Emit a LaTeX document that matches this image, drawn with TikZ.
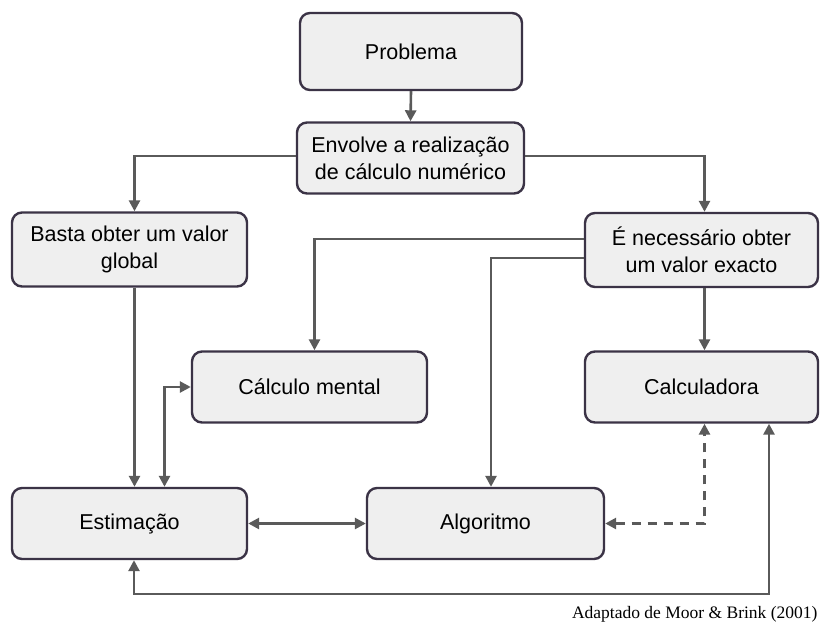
\documentclass[tikz,border=0pt]{standalone}
\usepackage{fontspec}
\setmainfont{Liberation Sans}
\newfontfamily\capfont{Liberation Serif}
\usetikzlibrary{arrows.meta}
\definecolor{boxfill}{HTML}{EFEFEF}
\definecolor{boxline}{HTML}{3B3346}
\definecolor{arr}{HTML}{5A5A5A}
\begin{document}
\begin{tikzpicture}[x=1pt,y=-1pt,
  box/.style={draw=boxline, fill=boxfill, line width=2.4pt, rounded corners=10pt, align=center,
    font=\fontsize{21.5}{27}\selectfont, inner sep=0pt},
  conn/.style={draw=arr, line width=2.6pt, -{Triangle[length=11pt,width=11pt]}},
  dconn/.style={draw=arr, line width=2.6pt, {Triangle[length=11pt,width=11pt]}-{Triangle[length=11pt,width=11pt]}}
]
\useasboundingbox (0,0) rectangle (827,627);
\fill[white] (0,0) rectangle (827,627);
\node[box, minimum width=222pt, minimum height=77pt] (prob) at (411,51.5) {Problema};
\node[box, minimum width=227pt, minimum height=71pt] (env) at (410.5,158) {Envolve a realização\\de cálculo numérico};
\node[box, minimum width=235pt, minimum height=74pt] (basta) at (129.5,249.5) {Basta obter um valor\\global};
\node[box, minimum width=233pt, minimum height=74pt] (nec) at (701.5,250) {É necessário obter\\um valor exacto};
\node[box, minimum width=235pt, minimum height=71pt] (calm) at (309.5,387) {Cálculo mental};
\node[box, minimum width=233pt, minimum height=71pt] (calc) at (701.5,387) {Calculadora};
\node[box, minimum width=235pt, minimum height=71pt] (est) at (129.5,523.5) {Estimação};
\node[box, minimum width=237pt, minimum height=71pt] (alg) at (485.5,523.5) {Algoritmo};
\node[anchor=east, font=\capfont\fontsize{17.5}{20}\selectfont] (cap) at (821,614) {Adaptado de Moor \& Brink (2001)};

\draw[conn] (prob.south) -- (env.north);
\draw[conn] ([yshift=2pt]env.west) -| ([xshift=5pt]basta.north);
\draw[conn] ([yshift=2pt]env.east) -| ([xshift=3pt]nec.north);
\draw[conn] ([yshift=11pt]nec.west) -| ([xshift=5pt]calm.north);
\draw[conn] ([yshift=-8pt]nec.west) -| ([xshift=5.5pt]alg.north);
\draw[conn] ([xshift=3pt]nec.south) -- ([xshift=3pt]calc.north);
\draw[conn] ([xshift=5pt]basta.south) -- ([xshift=5pt]est.north);
\draw[dconn] ([xshift=35pt]est.north) |- (calm.west);
\draw[dconn] (est.east) -- (alg.west);
\draw[dconn, dashed, dash pattern=on 9pt off 7pt] (alg.east) -| ([xshift=3pt]calc.south);
\coordinate (bl) at (134,594);
\coordinate (br) at (769,594);
\draw[dconn] ([xshift=4.5pt]est.south) -- (bl) -- (br) -- (br |- calc.south);
\end{tikzpicture}
\end{document}
